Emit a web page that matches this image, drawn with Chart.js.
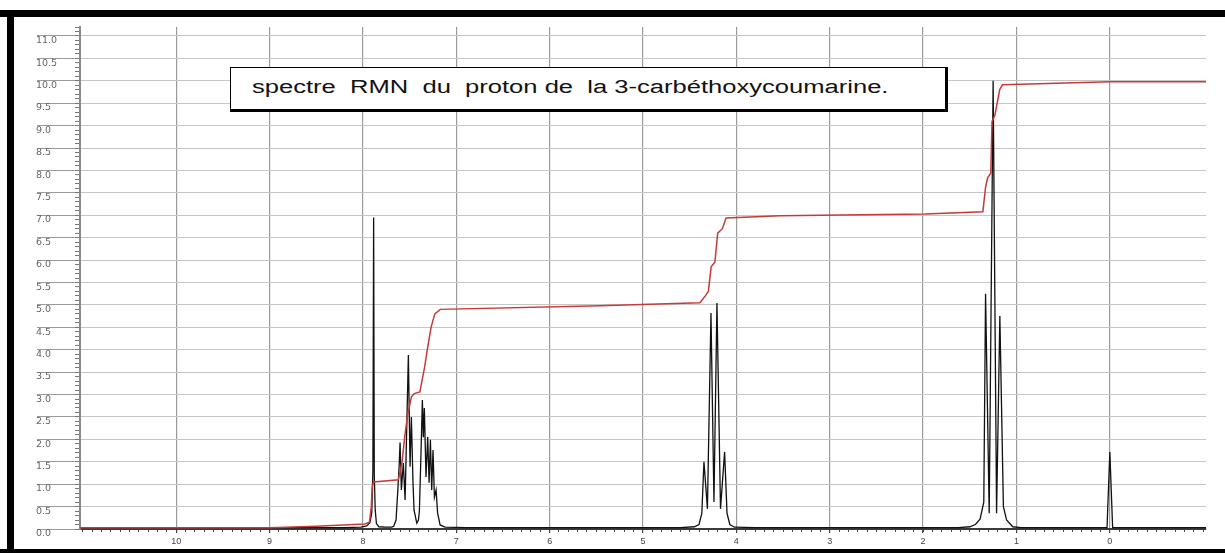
<!DOCTYPE html>
<html>
<head>
<meta charset="utf-8">
<script src="https://cdn.jsdelivr.net/npm/chart.js@4/dist/chart.umd.min.js"></script>
<style>
    body { margin: 0; background: #fff; }
    .page { position: relative; width: 1225px; height: 553px; overflow: hidden; background: #fff; }
    .band { position: absolute; background: #000; }
    .plot { position: absolute; left: 14px; top: 17px; width: 1211px; height: 532px; }
    .title-box {
        position: absolute; left: 230px; top: 67px; width: 714px; height: 41px;
        background: #fff; border: 1px solid #000; border-right-width: 3px; border-bottom-width: 3px;
    }
    .title-box span {
        position: absolute; left: 21px; top: 9px; white-space: pre;
        font-family: "Liberation Sans", Arial, sans-serif; font-size: 18px; color: #111;
        transform: scaleX(1.42); transform-origin: left center;
    }
</style>
</head>
<body>
<div class="page">
    <div class="band" style="left:0; top:10px; width:1225px; height:7px;"></div>
    <div class="band" style="left:7px; top:10px; width:7px; height:543px;"></div>
    <div class="band" style="left:0; top:549px; width:1225px; height:4px;"></div>
    <div class="plot"><canvas id="nmrGraph"></canvas></div>
    <div class="title-box"><span>spectre  RMN  du  proton de  la 3-carbéthoxycoumarine.</span></div>
</div>
<script>
// chemical shift (ppm) and intensity of the proton spectrum
const specPpm = [11.03, 9.00, 8.20, 8.02, 7.96, 7.925, 7.905, 7.893, 7.885, 7.878, 7.868, 7.855, 7.83, 7.76,
    7.69, 7.67, 7.645, 7.625, 7.612, 7.602, 7.588, 7.567, 7.548, 7.513, 7.495, 7.481, 7.463, 7.452, 7.423,
    7.405, 7.395, 7.377, 7.363, 7.353, 7.342, 7.324, 7.306, 7.291, 7.277, 7.263, 7.249, 7.234, 7.216, 7.20,
    7.173, 7.12, 6.90, 4.60, 4.45, 4.40, 4.37, 4.347, 4.31, 4.272, 4.24, 4.208, 4.17, 4.126, 4.10, 4.07,
    4.02, 3.80, 1.62, 1.50, 1.44, 1.39, 1.35, 1.331, 1.292, 1.250, 1.213, 1.178, 1.14, 1.106, 1.04, 0.95,
    0.03, 0.0, -0.03, -1.03];
const specInt = [0.03, 0.03, 0.03, 0.04, 0.07, 0.14, 0.36, 1.3, 6.95, 1.2, 0.42, 0.12, 0.05, 0.04,
    0.04, 0.06, 0.2, 0.9, 1.4, 1.93, 0.87, 1.47, 0.65, 3.88, 1.39, 2.5, 1.0, 0.42, 0.13,
    0.2, 0.4, 1.76, 2.88, 2.05, 2.7, 1.16, 2.05, 1.03, 1.99, 0.87, 1.76, 0.71, 0.87, 0.36,
    0.09, 0.04, 0.03, 0.03, 0.05, 0.1, 0.35, 1.5, 0.45, 4.82, 0.6, 5.04, 0.45, 1.72, 0.35, 0.1,
    0.04, 0.03, 0.03, 0.05, 0.1, 0.22, 0.6, 5.25, 0.35, 10.0, 0.35, 4.75, 0.5, 0.2, 0.05, 0.03,
    0.03, 1.72, 0.03, 0.03];

// integration curve
const integPpm = [11.03, 9.00, 8.50, 7.98, 7.93, 7.91, 7.90, 7.885, 7.62, 7.58, 7.55, 7.52, 7.48, 7.45,
    7.39, 7.34, 7.31, 7.27, 7.23, 7.17, 5.46, 4.39, 4.34, 4.30, 4.27, 4.23, 4.20, 4.15, 4.11, 3.53,
    1.98, 1.36, 1.33, 1.31, 1.275, 1.262, 1.23, 1.18, 1.15, 0.0, -1.03];
const integVal = [0.03, 0.03, 0.06, 0.11, 0.15, 0.5, 0.95, 1.05, 1.1, 1.5, 2.1, 2.55, 2.95, 3.02,
    3.06, 3.6, 4.0, 4.5, 4.8, 4.9, 4.98, 5.05, 5.18, 5.3, 5.85, 5.96, 6.6, 6.7, 6.94, 6.99,
    7.03, 7.08, 7.64, 7.83, 7.94, 9.09, 9.24, 9.8, 9.91, 9.98, 9.98];

const xTickValues = [10, 9, 8, 7, 6, 5, 4, 3, 2, 1, 0];
const yTickValues = [0, 0.5, 1, 1.5, 2, 2.5, 3, 3.5, 4, 4.5, 5, 5.5, 6, 6.5, 7, 7.5, 8, 8.5, 9, 9.5,
    10, 10.5, 11];

const PPM_MIN = -1.03, PPM_MAX = 11.03;
const INT_MAX = 11.2;

function toPoints(xs, ys) {
    return xs.map((x, i) => ({ x: x, y: ys[i] }));
}

document.addEventListener("DOMContentLoaded", function () {
    const ctx = document.getElementById('nmrGraph').getContext('2d');

    new Chart(ctx, {
        type: 'line',
        data: {
            datasets: [{
                data: toPoints(integPpm, integVal),
                borderColor: '#c73a3a',
                borderWidth: 1.5,
                pointRadius: 0,
                tension: 0,
                fill: false
            }, {
                data: toPoints(specPpm, specInt),
                borderColor: '#111',
                borderWidth: 1.3,
                pointRadius: 0,
                tension: 0,
                fill: false
            }]
        },
        options: {
            responsive: true,
            maintainAspectRatio: false,
            animation: false,
            events: [],
            layout: { padding: { left: 22, right: 19, top: 10, bottom: 0 } },
            plugins: {
                legend: { display: false },
                tooltip: { enabled: false }
            },
            scales: {
                x: {
                    type: 'linear',
                    reverse: true,
                    min: PPM_MIN,
                    max: PPM_MAX,
                    weight: 1,
                    afterBuildTicks: (scale) => { scale.ticks = xTickValues.map(v => ({ value: v })); },
                    afterFit: (scale) => { scale.height = 20; },
                    grid: { color: '#9a9a9a', lineWidth: 1.2, tickLength: 4, tickColor: '#444' },
                    border: { display: true, color: '#3a3a3a', width: 2 },
                    ticks: {
                        padding: 3,
                        color: '#444',
                        font: { family: 'Liberation Sans', size: 9 },
                        callback: (v) => String(v)
                    }
                },
                x2: {
                    type: 'linear',
                    position: 'bottom',
                    reverse: true,
                    min: PPM_MIN,
                    max: PPM_MAX,
                    weight: 0,
                    afterFit: (scale) => { scale.height = 0; },
                    grid: { drawOnChartArea: false, tickLength: 3, tickColor: '#444' },
                    border: { display: false },
                    ticks: { display: false, stepSize: 0.1, includeBounds: false }
                },
                y: {
                    type: 'linear',
                    position: 'left',
                    min: 0,
                    max: INT_MAX,
                    weight: 1,
                    afterBuildTicks: (scale) => { scale.ticks = yTickValues.map(v => ({ value: v })); },
                    afterFit: (scale) => { scale.width = 44; },
                    grid: { color: '#c6c6c6', lineWidth: 1, tickLength: 43, tickColor: '#9a9a9a' },
                    border: { display: true, color: '#8a8a8a', width: 2 },
                    ticks: {
                        align: 'start',
                        crossAlign: 'far',
                        color: '#666',
                        font: { family: 'DejaVu Sans', size: 9.5 },
                        callback: (v) => v.toFixed(1)
                    }
                },
                y2: {
                    type: 'linear',
                    position: 'left',
                    min: 0,
                    max: INT_MAX,
                    weight: 0,
                    afterFit: (scale) => { scale.width = 0; },
                    grid: { drawOnChartArea: false, tickLength: 5, tickColor: '#777' },
                    border: { display: false },
                    ticks: { display: false, stepSize: 0.1, includeBounds: false }
                }
            }
        }
    });
});
</script>
</body>
</html>
